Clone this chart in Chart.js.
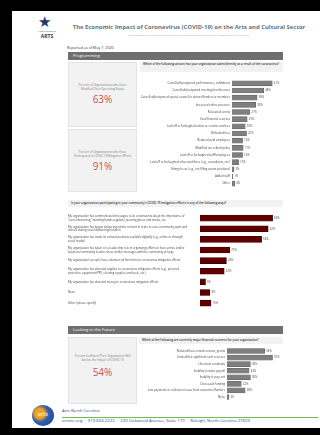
<!DOCTYPE html>
<html>
<head>
<meta charset="utf-8">
<script src="https://cdn.jsdelivr.net/npm/chart.js@4.4.1/dist/chart.umd.min.js"></script>
<style>
  body { margin: 0; width: 320px; height: 435px; background: #fff; position: relative; overflow: hidden; font-family: "Open Sans", sans-serif; }
  .abs { position: absolute; }
  .blk { position: absolute; background: #000; }
  .hdr { position: absolute; left: 68px; width: 215px; height: 8px; background: #6f6f6f; color: #fff; font-size: 4.2px; line-height: 8px; padding-left: 5px; box-sizing: border-box; }
  .q { position: absolute; background: #f2f2f2; color: #333; font-size: 2.9px; line-height: 3.6px; font-weight: 600; padding: 1px 3px; box-sizing: border-box; }
  .box { position: absolute; left: 68px; width: 69px; background: #f2f2f2; border: 0.5px solid #e4e4e4; box-sizing: border-box; text-align: center; color: #808080; }
  .box .t { position: absolute; left: 4px; right: 4px; font-size: 2.9px; line-height: 3.6px; }
  .box .p { position: absolute; left: 0; right: 0; font-size: 10px; line-height: 10px; color: #c65353; }
  canvas { position: absolute; }
</style>
</head>
<body>
<div class="blk" style="left:0;top:0;width:320px;height:11px"></div>
<div class="blk" style="left:0;top:0;width:12px;height:435px"></div>
<div class="blk" style="left:0;top:428px;width:320px;height:7px"></div>

<!-- top logo -->
<div class="abs" style="left:38px;top:14px;font-size:15px;line-height:15px;color:#1f3a6e">&#9733;</div>
<div class="abs" style="left:35px;top:31px;width:24px;text-align:center;font-size:1.8px;line-height:2px;color:#1f3a6e">AMERICANS FOR THE</div>
<div class="abs" style="left:35px;top:33px;width:24px;text-align:center;font-size:5px;line-height:6px;font-weight:700;color:#1f3a6e">ARTS</div>

<div class="abs" style="left:70px;top:23px;width:238px;text-align:center;font-size:5.9px;line-height:8px;font-weight:700;color:#66727e;white-space:nowrap">The Economic Impact of Coronavirus (COVID-19) on the Arts and Cultural Sector</div>
<div class="abs" style="left:70px;top:34px;width:238px;text-align:center;font-size:2.4px;line-height:3px;color:#a0a0a0;white-space:nowrap">This dashboard is a living report and is updated weekly with new data from the Americans for the Arts survey</div>
<div class="abs" style="left:67px;top:45px;font-size:3.7px;line-height:5px;color:#333">Reported as of May 7, 2020</div>

<div class="hdr" style="top:52px">Programming</div>
<div class="q" style="left:140px;top:62px;width:143px;height:10px">Which of the following actions has your organization taken/directly as a result of the coronavirus?</div>

<div class="box" style="top:62px;height:65px">
  <div class="t" style="top:21px">Percent of Organizations who Have Modified Their Operating Status</div>
  <div class="p" style="top:31px">63%</div>
</div>
<div class="box" style="top:129px;height:63px">
  <div class="t" style="top:21px">Percent of Organizations who Have Participated in COVID-19 Mitigation Efforts</div>
  <div class="p" style="top:31px">91%</div>
</div>

<canvas id="actionsChart" width="158" height="115" style="left:140px;top:76px"></canvas>

<div class="q" style="left:68px;top:200px;width:215px;height:7px;line-height:5px">Is your organization participating in your community's COVID-19 mitigation efforts in any of the following ways?</div>
<canvas id="effortsChart" width="242" height="105" style="left:68px;top:209px"></canvas>

<div class="hdr" style="top:326px">Looking to the Future</div>
<div class="q" style="left:139px;top:337px;width:144px;height:7px;line-height:5px">Which of the following are currently major financial concerns for your organization?</div>
<div class="box" style="top:337px;height:67px">
  <div class="t" style="top:17px">Percent Confident Their Organization Will Survive the Impact of COVID-19</div>
  <div class="p" style="top:29px">54%</div>
</div>
<canvas id="concernsChart" width="152" height="60" style="left:140px;top:344px"></canvas>

<!-- footer -->
<div class="abs" style="left:32px;top:405px;width:22px;height:21px;border-radius:50%;background:radial-gradient(circle at 35% 40%, #f7a21b 0 25%, #2e5fb0 45%, #27418c 100%)"></div>
<div class="abs" style="left:35px;top:411px;width:16px;text-align:center;font-size:6px;line-height:7px;color:#fff;font-style:italic">arts</div>
<div class="abs" style="left:62px;top:417px;width:256px;height:1px;background:#6cbf4a"></div>
<div class="abs" style="left:62px;top:408px;font-size:4.2px;line-height:5px;color:#2a4d9b">Arts North Carolina</div>
<div class="abs" style="left:62px;top:418px;font-size:4.3px;line-height:5px;color:#2a4d9b;white-space:nowrap">artsnc.org &nbsp;·&nbsp; 919.834.2222 &nbsp;·&nbsp; 220 Oakwood Avenue, Suite 170 &nbsp;·&nbsp; Raleigh, North Carolina 27603</div>

<script>
const actionLabels = [
  "Cancelled/postponed performances, exhibitions",
  "Cancelled/postponed meetings/conferences",
  "Cancelled/postponed special events for donors/funders or members",
  "Increased online presence",
  "Relocated events",
  "Used financial reserves",
  "Laid off or furloughed artists or creative workers",
  "Refunded fees",
  "Reduced paid employees",
  "Modified our refund policy",
  "Laid off or furloughed staff/employees",
  "Laid off or furloughed other workforce (e.g., consultants, etc.)",
  "Hiring freeze (e.g., not filling vacant positions)",
  "Added staff",
  "Other"
];
const actionValues = [61, 48, 38, 36, 27, 23, 20, 22, 16, 17, 16, 10, 3, 1, 4];

const effortLabels = [
  ["My organization has communicated messages to its constituents about the importance of",
   "\"social distancing,\" washing hands regularly, wearing gloves and masks, etc."],
  ["My organization has begun delivering artistic content in order to raise community spirit and",
   "morale during social distancing/isolation"],
  ["My organization has made its cultural products available digitally (e.g., online or through",
   "social media)"],
  ["My organization has taken on a leadership role in organizing efforts to have artists and/or",
   "business/community leaders share similar messages with the community at large"],
  "My organization's people have volunteered their time to coronavirus mitigation efforts",
  ["My organization has donated supplies to coronavirus mitigation efforts (e.g., personal",
   "protective equipment/PPE, cleaning supplies and tools, etc.)"],
  "My organization has donated money to coronavirus mitigation efforts",
  "None",
  "Other (please specify)"
];
const effortValues = [66, 62, 56, 27, 24, 22, 5, 9, 10];

const concernLabels = [
  "Reduced/lost earned revenue, grants",
  "Limited/lost significant cash reserves",
  "Uncertain continuity",
  "Inability to make payroll",
  "Inability to pay rent",
  "Decreased funding",
  "Late payments or collection issues from customers/funders",
  "None"
];
const concernValues = [58, 70, 36, 34, 36, 22, 28, 3];

// writes "NN%" just past the end of every bar
const valueLabels = {
  id: "valueLabels",
  afterDatasetsDraw(chart, args, opts) {
    const ctx = chart.ctx;
    const ds = chart.data.datasets[0];
    ctx.save();
    ctx.font = opts.size + "px 'Open Sans'";
    ctx.fillStyle = "#444";
    ctx.textBaseline = "middle";
    chart.getDatasetMeta(0).data.forEach((bar, i) => {
      ctx.fillText(ds.data[i] + "%", bar.x + 1.5, bar.y);
    });
    ctx.restore();
  }
};

function barChart(id, labels, values, color, border, axisWidth, fontSize, thickness, align) {
  return new Chart(document.getElementById(id), {
    type: "bar",
    data: {
      labels: labels,
      datasets: [{
        data: values,
        backgroundColor: color,
        borderColor: border,
        borderWidth: 0.6,
        barThickness: thickness
      }]
    },
    options: {
      indexAxis: "y",
      responsive: false,
      animation: false,
      layout: { padding: 0 },
      plugins: {
        legend: { display: false },
        tooltip: { enabled: false },
        valueLabels: { size: fontSize }
      },
      scales: {
        x: { display: false, min: 0, max: 100 },
        y: {
          grid: { display: false, drawTicks: false },
          border: { display: false },
          ticks: {
            autoSkip: false,
            padding: 2,
            crossAlign: align,
            color: "#404040",
            font: { family: "Open Sans", size: fontSize, lineHeight: 1.25 }
          },
          afterFit(scale) { scale.width = axisWidth; }
        }
      }
    },
    plugins: [valueLabels]
  });
}

barChart("actionsChart", actionLabels, actionValues, "#7f7f7f", "#5f5f5f", 92, 2.8, 5, "near");
barChart("effortsChart", effortLabels, effortValues, "#5e0000", "#3a0000", 132, 2.8, 6, "far");
barChart("concernsChart", concernLabels, concernValues, "#7f7f7f", "#5f5f5f", 87, 2.8, 5, "near");
</script>
</body>
</html>
